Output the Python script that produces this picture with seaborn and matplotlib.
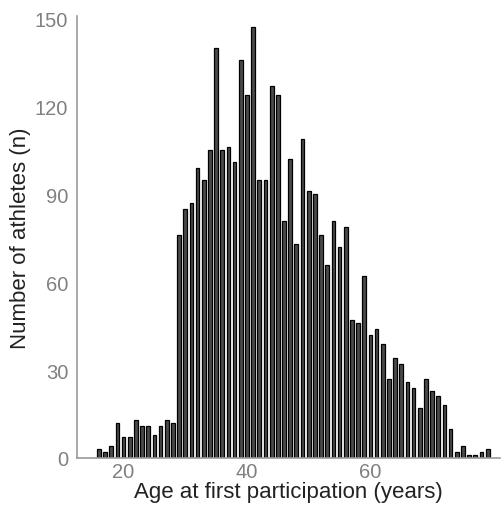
import numpy as np
import pandas as pd
import matplotlib
matplotlib.use("Agg")
import matplotlib.pyplot as plt
import seaborn as sns

# age at first participation (one bin per year) and number of athletes
ages = list(range(16, 80))
counts = [3, 2, 4, 12, 7, 7, 13, 11, 11, 8, 11, 13, 12,
          76, 85, 87, 99, 95, 105, 140, 105, 106, 101, 136, 124, 147, 95, 95, 127, 124,
          81, 102, 73, 109, 91, 90, 76, 66, 81, 72, 79, 47, 46, 62, 42, 44, 39,
          27, 34, 32, 26, 24, 17, 27, 23, 21, 18, 10, 2, 4, 1, 1, 2, 3]
y_ticks = [0, 30, 60, 90, 120, 150]
x_ticks = [20, 40, 60]

df = pd.DataFrame({"age": ages, "n": counts})

sns.set_theme(style="white")
plt.rcParams['font.family'] = ['Liberation Sans', 'DejaVu Sans']

fig = plt.figure(figsize=(5.01, 5.06), dpi=100)
ax = fig.add_axes([0.153, 0.093, 0.845, 0.874])

sns.histplot(data=df, x="age", weights="n", discrete=True, shrink=0.6,
             color="#4a4a4a", edgecolor="black", linewidth=0.9, alpha=1,
             ax=ax)

ax.set_xlim(12.4, 81.0)
ax.set_ylim(0, 151)
ax.set_yticks(y_ticks)
ax.set_xticks(x_ticks)
ax.set_xlabel("Age at first participation (years)", fontsize=16, color="#222222", labelpad=0)
ax.set_ylabel("Number of athletes (n)", fontsize=16, color="#222222", labelpad=3)
ax.tick_params(axis="both", labelsize=14.5, labelcolor="#808080", color="#999999",
               length=3, width=1, direction="out", pad=3)
ax.tick_params(axis="x", length=0, pad=3)

sns.despine(ax=ax)
for side in ["left", "bottom"]:
    ax.spines[side].set_color("#999999")
    ax.spines[side].set_linewidth(1.2)

fig.savefig("out.png", dpi=100)
